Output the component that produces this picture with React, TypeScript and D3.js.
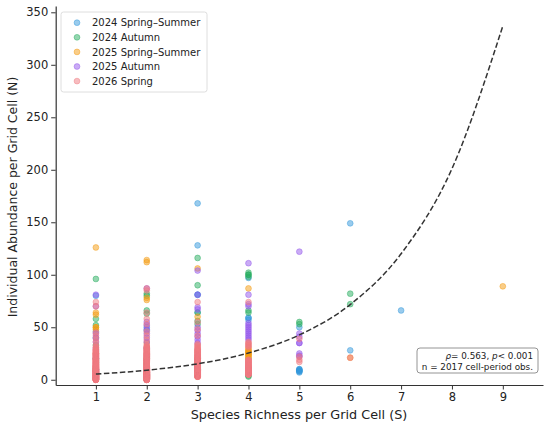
import { useEffect, useRef } from "react"
import * as d3 from "d3"

const SERIES_NAMES = ["2024 Spring–Summer", "2024 Autumn", "2025 Spring–Summer", "2025 Autumn", "2026 Spring"]
const SERIES_COLORS = ["#3498db", "#27ae60", "#f39c12", "#9457eb", "#f07a80"]

// [S, N, count] per sampling period (count defaults to 1)
type Obs = [number, number, number?]

const spring2024: Obs[] = [
  [1, 80], [1, 46], [1, 40], [1, 20], [1, 10],
  [2, 50], [2, 47], [2, 30], [2, 15],
  [3, 168], [3, 128], [3, 81, 2], [3, 64], [3, 20], [3, 10],
  [4, 97], [4, 59, 2], [4, 57], [4, 20], [4, 10],
  [5, 50], [5, 10, 2], [5, 9, 2], [5, 8, 2], [5, 7],
  [6, 149], [6, 28],
  [7, 66],
]

const autumn2024: Obs[] = [
  [1, 96], [1, 58], [1, 52], [1, 33], [1, 20], [1, 10],
  [2, 82], [2, 80], [2, 66], [2, 63], [2, 20],
  [3, 116], [3, 90], [3, 64], [3, 56], [3, 53], [3, 10],
  [4, 102], [4, 100, 2], [4, 98], [4, 66], [4, 64], [4, 4], [4, 3],
  [5, 55], [5, 53],
  [6, 82], [6, 72],
]

const spring2025: Obs[] = [
  [1, 126], [1, 64], [1, 62], [1, 50, 2], [1, 48], [1, 25],
  [2, 114], [2, 112], [2, 78], [2, 76], [2, 35], [2, 15],
  [3, 106], [3, 60], [3, 20], [3, 3],
  [4, 87], [4, 30], [4, 28, 2], [4, 26, 3], [4, 24, 3], [4, 22, 2], [4, 20],
  [6, 21],
  [9, 89],
]

const autumn2025: Obs[] = [
  [1, 81], [1, 70], [1, 44], [1, 40], [1, 36], [1, 30],
  [2, 87], [2, 55], [2, 52], [2, 48], [2, 44], [2, 40], [2, 36],
  [3, 104], [3, 81], [3, 69], [3, 67], [3, 50], [3, 47], [3, 44], [3, 41], [3, 38], [3, 35],
  [4, 111], [4, 81], [4, 72], [4, 70], [4, 54], [4, 52], [4, 50], [4, 48], [4, 46], [4, 44], [4, 42], [4, 40], [4, 38],
  [5, 122], [5, 44], [5, 41], [5, 35, 2], [5, 25], [5, 23], [5, 22],
]

const spring2026: Obs[] = [
  [1, 0, 10], [1, 1, 10], [1, 2, 10], [1, 3, 10], [1, 4, 9], [1, 5, 9], [1, 6, 8], [1, 7, 8],
  [1, 8, 8], [1, 9, 7], [1, 10, 7], [1, 11, 6], [1, 12, 6], [1, 13, 6], [1, 14, 5], [1, 15, 5],
  [1, 16, 5], [1, 17, 4], [1, 18, 4], [1, 19, 4], [1, 20, 4], [1, 21, 3], [1, 22, 3], [1, 23, 3],
  [1, 24, 3], [1, 25, 3], [1, 26, 2], [1, 27, 2], [1, 28, 2], [1, 29, 2], [1, 31, 2],
  [1, 33], [1, 36], [1, 39], [1, 42], [1, 45], [1, 70], [1, 74],
  [2, 0, 10], [2, 1, 10], [2, 2, 10], [2, 3, 10], [2, 4, 9], [2, 5, 9], [2, 6, 8], [2, 7, 8],
  [2, 8, 8], [2, 9, 7], [2, 10, 7], [2, 11, 6], [2, 12, 6], [2, 13, 6], [2, 14, 5], [2, 15, 5],
  [2, 16, 5], [2, 17, 4], [2, 18, 4], [2, 19, 4], [2, 20, 4], [2, 21, 3], [2, 22, 3], [2, 23, 3],
  [2, 24, 3], [2, 25, 3], [2, 26, 2], [2, 27, 2], [2, 28, 2], [2, 29, 2], [2, 30, 2],
  [2, 31, 2], [2, 32], [2, 33], [2, 38], [2, 42], [2, 46], [2, 53], [2, 58], [2, 64], [2, 85], [2, 87],
  [3, 3, 6], [3, 4, 6], [3, 5, 6], [3, 6, 6], [3, 7, 6], [3, 8, 6], [3, 9, 5], [3, 10, 5],
  [3, 11, 5], [3, 12, 5], [3, 13, 4], [3, 14, 4], [3, 15, 4], [3, 16, 4], [3, 17, 4], [3, 18, 3],
  [3, 19, 3], [3, 20, 3], [3, 21, 3], [3, 22, 3], [3, 23, 3], [3, 24, 2], [3, 25, 2], [3, 26, 2],
  [3, 27, 2], [3, 28, 2], [3, 29, 2], [3, 30], [3, 31], [3, 32], [3, 33], [3, 34],
  [3, 42], [3, 48], [3, 55], [3, 74],
  [4, 5, 4], [4, 6, 4], [4, 7, 4], [4, 8, 4], [4, 9, 3], [4, 10, 3], [4, 11, 3], [4, 12, 3],
  [4, 13, 3], [4, 14, 2], [4, 15, 2], [4, 16, 2], [4, 17, 2], [4, 18, 2], [4, 19, 2],
  [4, 31], [4, 32], [4, 33], [4, 34], [4, 35], [4, 36], [4, 74],
  [5, 39], [5, 22], [5, 19], [5, 17],
  [6, 21],
]

const SERIES = [spring2024, autumn2024, spring2025, autumn2025, spring2026]

// fitted exponential trend, read at each richness value
const FIT_S = [1, 2, 3, 4, 5, 6, 7, 8, 9]
const FIT_N = [5.4, 9.1, 15.2, 25.5, 42.7, 71.6, 120, 201, 337]

const X_TICKS = [1, 2, 3, 4, 5, 6, 7, 8, 9]
const Y_TICKS = [0, 50, 100, 150, 200, 250, 300, 350]

const FONT = "DejaVu Sans, sans-serif"

export default function App() {
  const svgRef = useRef<SVGSVGElement>(null)

  useEffect(() => {
    if (!svgRef.current) return
    const width = 550
    const height = 429

    d3.select(svgRef.current).selectAll("*").remove()
    const svg = d3.select(svgRef.current).attr("width", width).attr("height", height)

    const x = d3.scaleLinear().domain([0.21, 9.79]).range([55.7, 543])
    const y = d3.scaleLinear().domain([-5, 356]).range([385, 6])

    // points (one circle per observation)
    SERIES.forEach((pts, i) => {
      const flat = pts.flatMap((d) => d3.range(d[2] ?? 1).map(() => d))
      svg
        .append("g")
        .selectAll("circle")
        .data(flat)
        .enter()
        .append("circle")
        .attr("cx", (d) => x(d[0]))
        .attr("cy", (d) => y(d[1]))
        .attr("r", 2.9)
        .attr("fill", SERIES_COLORS[i])
        .attr("fill-opacity", 0.5)
        .attr("stroke", SERIES_COLORS[i])
        .attr("stroke-opacity", 0.5)
        .attr("stroke-width", 0.9)
    })

    // trend line
    const line = d3
      .line<number>()
      .x((d, i) => x(FIT_S[i]))
      .y((d) => y(d))
      .curve(d3.curveMonotoneX)
    svg
      .append("path")
      .attr("d", line(FIT_N))
      .attr("fill", "none")
      .attr("stroke", "#333")
      .attr("stroke-width", 1.5)
      .attr("stroke-dasharray", "5.5,2.5")

    // axes
    const xAxis = svg
      .append("g")
      .attr("transform", "translate(0,385)")
      .call(d3.axisBottom(x).tickValues(X_TICKS).tickSize(4.5).tickPadding(3).tickSizeOuter(0))
    const yAxis = svg
      .append("g")
      .attr("transform", "translate(55.7,0)")
      .call(d3.axisLeft(y).tickValues(Y_TICKS).tickSize(4.5).tickPadding(3).tickSizeOuter(0))
    ;[xAxis, yAxis].forEach((ax) => {
      ax.select(".domain").attr("stroke", "#333").attr("stroke-width", 1.2)
      ax.selectAll(".tick line").attr("stroke", "#333").attr("stroke-width", 1)
      ax.selectAll(".tick text")
        .attr("fill", "#222")
        .style("font-family", FONT)
        .style("font-size", "11.5px")
    })

    svg
      .append("text")
      .attr("x", 299)
      .attr("y", 419)
      .attr("text-anchor", "middle")
      .attr("fill", "#222")
      .style("font-family", FONT)
      .style("font-size", "12.8px")
      .text("Species Richness per Grid Cell (S)")

    svg
      .append("text")
      .attr("transform", "translate(17,197) rotate(-90)")
      .attr("text-anchor", "middle")
      .attr("fill", "#222")
      .style("font-family", FONT)
      .style("font-size", "12.5px")
      .text("Individual Abundance per Grid Cell (N)")

    // legend
    const legend = svg.append("g").attr("transform", "translate(61,12)")
    legend
      .append("rect")
      .attr("width", 146)
      .attr("height", 80)
      .attr("rx", 2.5)
      .attr("fill", "#fff")
      .attr("fill-opacity", 0.85)
      .attr("stroke", "#d6d6d6")
      .attr("stroke-width", 0.8)
    const item = legend
      .selectAll(".legend")
      .data(SERIES_NAMES)
      .enter()
      .append("g")
      .attr("class", "legend")
      .attr("transform", (d, i) => `translate(0, ${10.7 + i * 14.6})`)
    item
      .append("circle")
      .attr("cx", 16)
      .attr("r", 2.9)
      .attr("fill", (d, i) => SERIES_COLORS[i])
      .attr("fill-opacity", 0.5)
      .attr("stroke", (d, i) => SERIES_COLORS[i])
      .attr("stroke-opacity", 0.5)
      .attr("stroke-width", 0.9)
    item
      .append("text")
      .attr("x", 31)
      .attr("y", 3.6)
      .attr("fill", "#222")
      .style("font-family", FONT)
      .style("font-size", "10px")
      .text((d) => d)

    // stats box
    const stats = svg.append("g")
    stats
      .append("rect")
      .attr("x", 417)
      .attr("y", 348)
      .attr("width", 121)
      .attr("height", 25)
      .attr("rx", 3)
      .attr("fill", "#fff")
      .attr("stroke", "#888")
      .attr("stroke-width", 0.9)
    const l1 = stats
      .append("text")
      .attr("x", 533)
      .attr("y", 358.5)
      .attr("text-anchor", "end")
      .attr("fill", "#222")
      .style("font-family", FONT)
      .style("font-size", "8.8px")
    l1.append("tspan").style("font-style", "italic").text("ρ")
    l1.append("tspan").text("= 0.563, ")
    l1.append("tspan").style("font-style", "italic").text("p")
    l1.append("tspan").text("< 0.001")
    stats
      .append("text")
      .attr("x", 533)
      .attr("y", 369.5)
      .attr("text-anchor", "end")
      .attr("fill", "#222")
      .style("font-family", FONT)
      .style("font-size", "8.8px")
      .text("n = 2017 cell-period obs.")
  }, [])

  return (
    <div style={{ position: "absolute", left: 0, top: 0, background: "#fff" }}>
      <svg ref={svgRef} style={{ display: "block" }} />
    </div>
  )
}
